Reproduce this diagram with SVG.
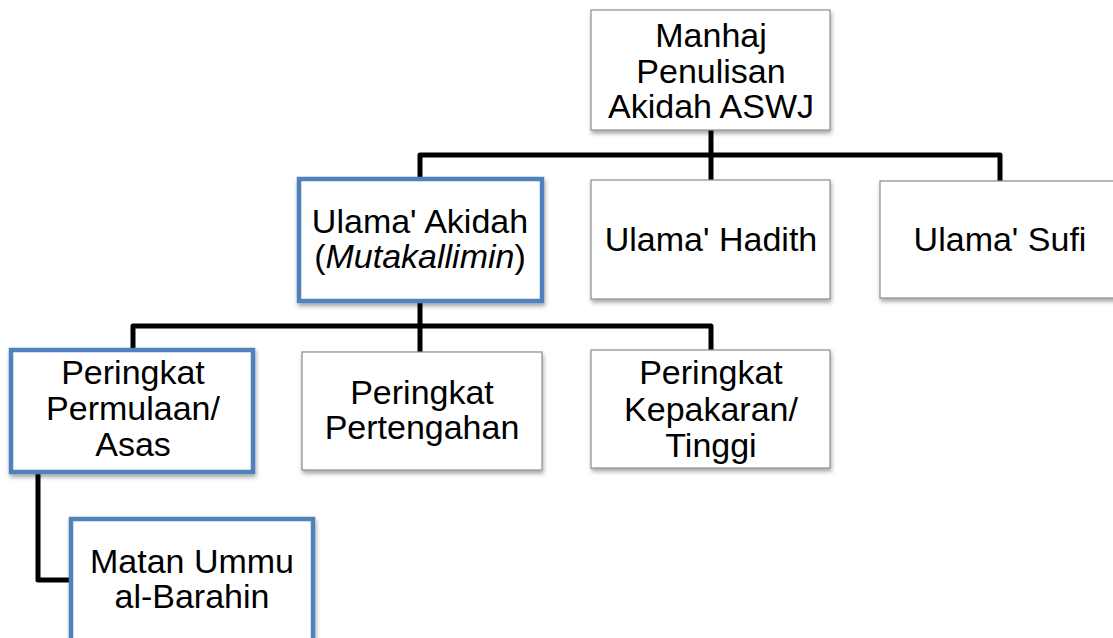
<svg xmlns="http://www.w3.org/2000/svg" width="1113" height="638" viewBox="0 0 1113 638">
<defs>
<filter id="sh" x="-10%" y="-10%" width="130%" height="130%">
<feDropShadow dx="1" dy="3" stdDeviation="2" flood-color="#000" flood-opacity="0.35"/>
</filter>
<style>
.g{fill:#fff;stroke:#8c8c8c;stroke-width:1.2;filter:url(#sh)}
.b{fill:#fff;stroke:#4f81bd;stroke-width:4.5;filter:url(#sh)}
.t{font-family:"Liberation Sans",Arial,sans-serif;font-size:34px;fill:#000;text-anchor:middle}
.c{fill:none;stroke:#000;stroke-width:5;stroke-linejoin:round}
</style>
</defs>
<rect width="1113" height="638" fill="#fff"/>
<g id="connectors">
<path class="c" d="M711 130V155"/>
<path class="c" d="M420 178V155H1000V181"/>
<path class="c" d="M711 155V180"/>
<path class="c" d="M420 301V326"/>
<path class="c" d="M133 349V326H711V350"/>
<path class="c" d="M420 326V352"/>
<path class="c" d="M38 472V580H71"/>
</g>
<g id="n-root">
<rect class="g" x="591" y="10" width="239" height="120"/>
<text class="t" x="711" y="47">Manhaj</text>
<text class="t" x="711" y="83">Penulisan</text>
<text class="t" x="711" y="118">Akidah ASWJ</text>
</g>
<g id="n-akidah">
<rect class="b" x="299" y="179" width="243" height="122"/>
<text class="t" x="420" y="233">Ulama' Akidah</text>
<text class="t" x="420" y="268">(<tspan font-style="italic">Mutakallimin</tspan>)</text>
</g>
<g id="n-hadith">
<rect class="g" x="591" y="180" width="239" height="119"/>
<text class="t" x="711" y="251">Ulama' Hadith</text>
</g>
<g id="n-sufi">
<rect class="g" x="880" y="181" width="240" height="117"/>
<text class="t" x="1000" y="251">Ulama' Sufi</text>
</g>
<g id="n-permulaan">
<rect class="b" x="11" y="350" width="242" height="122"/>
<text class="t" x="133" y="384">Peringkat</text>
<text class="t" x="133" y="420">Permulaan/</text>
<text class="t" x="133" y="456">Asas</text>
</g>
<g id="n-pertengahan">
<rect class="g" x="302" y="352" width="240" height="118"/>
<text class="t" x="422" y="404">Peringkat</text>
<text class="t" x="422" y="439">Pertengahan</text>
</g>
<g id="n-kepakaran">
<rect class="g" x="591" y="350" width="239" height="118"/>
<text class="t" x="711" y="384">Peringkat</text>
<text class="t" x="711" y="421">Kepakaran/</text>
<text class="t" x="711" y="457">Tinggi</text>
</g>
<g id="n-matan">
<rect class="b" x="71" y="519" width="242" height="124"/>
<text class="t" x="192" y="573">Matan Ummu</text>
<text class="t" x="192" y="608">al-Barahin</text>
</g>
</svg>
